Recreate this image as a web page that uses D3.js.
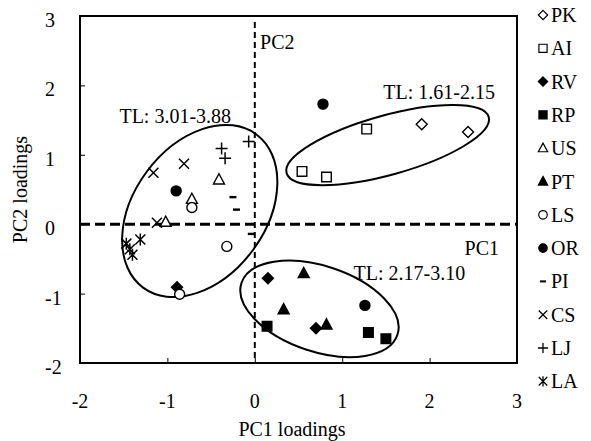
<!DOCTYPE html>
<html>
<head>
<meta charset="utf-8">
<script src="https://cdn.jsdelivr.net/npm/d3@7"></script>
<style>
  body { margin: 0; background: #fff; }
  #chart { width: 591px; height: 441px; }
  text { font-family: "Liberation Serif", "Times New Roman", serif; font-size: 20px; fill: #000; }
</style>
</head>
<body>
<div id="chart"></div>
<script>
// groups shown in the legend, top to bottom
var groups = ["PK", "AI", "RV", "RP", "US", "PT", "LS", "OR", "PI", "CS", "LJ", "LA"];
var shapes = ["diamond", "square", "diamond", "square", "triangle", "triangle", "circle", "circle", "dash", "times", "plus", "asterisk"];
var filled = [false, false, true, true, false, true, false, true, true, false, false, false];

// PC1 / PC2 loadings per group
var pkX = [1.91, 2.44],               pkY = [1.44, 1.33];
var aiX = [1.28, 0.54, 0.82],         aiY = [1.37, 0.76, 0.68];
var rvX = [0.15, 0.70, -0.89],        rvY = [-0.78, -1.50, -0.91];
var rpX = [0.14, 1.30, 1.50],         rpY = [-1.47, -1.56, -1.65];
var usX = [-0.41, -0.72, -1.02],      usY = [0.64, 0.36, 0.03];
var ptX = [0.56, 0.33, 0.82],         ptY = [-0.71, -1.23, -1.45];
var lsX = [-0.72, -0.32, -0.86],      lsY = [0.24, -0.32, -1.01];
var orX = [0.78, -0.90, 1.26],        orY = [1.73, 0.48, -1.17];
var piX = [-0.25, -0.21, -0.04],      piY = [0.39, 0.21, -0.14];
var csX = [-1.16, -0.81, -1.12],      csY = [0.74, 0.87, 0.02];
var ljX = [-0.38, -0.34, -0.07],      ljY = [1.09, 0.95, 1.19];
var laX = [-1.47, -1.31, -1.43, -1.40], laY = [-0.28, -0.22, -0.36, -0.44];

var allX = [pkX, aiX, rvX, rpX, usX, ptX, lsX, orX, piX, csX, ljX, laX];
var allY = [pkY, aiY, rvY, rpY, usY, ptY, lsY, orY, piY, csY, ljY, laY];

// cluster ellipses (centre, semi axes in PC1 units, tilt in degrees)
var ellCx = [-0.63, 1.52, 0.74];
var ellCy = [0.19, 1.14, -1.22];
var ellA = [1.09, 1.20, 0.94];
var ellB = [0.755, 0.34, 0.49];
var ellTilt = [53.5, 15.5, -18.4];

// text notes inside the plot
var noteText = ["TL: 3.01-3.88", "TL: 1.61-2.15", "TL: 2.17-3.10", "PC2", "PC1"];
var noteX = [-0.91, 1.47, 1.13, 0.06, 2.40];
var noteY = [1.46, 1.80, -0.81, 2.53, -0.44];
var noteAnchor = ["middle", "start", "start", "start", "start"];

var xTicks = [-2, -1, 0, 1, 2, 3];
var yTicks = [-2, -1, 0, 1, 2, 3];

var margin = {top: 16, right: 74, bottom: 78, left: 80},
  width = 591 - margin.left - margin.right,
  height = 441 - margin.top - margin.bottom;

var svg = d3.select("#chart")
.append("svg")
  .attr("width", 591)
  .attr("height", 441)
.append("g")
  .attr("transform", "translate(" + margin.left + "," + margin.top + ")");

var x = d3.scaleLinear().domain([-2, 3]).range([0, width]);
var y = d3.scaleLinear().domain([-2, 3]).range([height, 0]);

// inward ticks on bottom and left
var xAxis = svg.append("g")
  .attr("transform", "translate(0," + height + ")")
  .call(d3.axisTop(x).tickValues(xTicks).tickSize(5).tickFormat(""));
var yAxis = svg.append("g")
  .call(d3.axisRight(y).tickValues(yTicks).tickSize(5).tickFormat(""));
svg.selectAll(".domain").remove();
svg.selectAll(".tick line").attr("stroke", "#000").attr("stroke-width", 1);

// tick labels
svg.selectAll(".xlab")
  .data(xTicks)
  .enter()
  .append("text")
    .attr("x", function(d) { return x(d) })
    .attr("y", height + 45)
    .attr("text-anchor", "middle")
    .text(function(d) { return d });
svg.selectAll(".ylab")
  .data(yTicks)
  .enter()
  .append("text")
    .attr("x", -35)
    .attr("y", function(d) { return y(d) + 11 })
    .attr("text-anchor", "start")
    .text(function(d) { return d });

// axis titles
svg.append("text")
  .attr("x", 212)
  .attr("y", height + 73)
  .attr("text-anchor", "middle")
  .text("PC1 loadings");
svg.append("text")
  .attr("transform", "translate(-53," + (height / 2) + ") rotate(-90)")
  .attr("text-anchor", "middle")
  .text("PC2 loadings");

// dashed zero lines
svg.append("line")
  .attr("x1", x(0)).attr("x2", x(0))
  .attr("y1", y(3) + 6).attr("y2", y(-2))
  .attr("stroke", "#000").attr("stroke-width", 2)
  .attr("stroke-dasharray", "6,4");
svg.append("line")
  .attr("x1", x(-2)).attr("x2", x(3))
  .attr("y1", y(0)).attr("y2", y(0))
  .attr("stroke", "#000").attr("stroke-width", 3)
  .attr("stroke-dasharray", "10,5");

// ellipses
var unit = x(1) - x(0);
ellCx.forEach(function(cx, i) {
  svg.append("ellipse")
    .attr("transform", "translate(" + x(cx) + "," + y(ellCy[i]) + ") rotate(" + (-ellTilt[i]) + ")")
    .attr("rx", ellA[i] * unit)
    .attr("ry", ellB[i] * unit)
    .attr("fill", "none")
    .attr("stroke", "#000")
    .attr("stroke-width", 2);
});

// notes
svg.selectAll(".note")
  .data(noteText)
  .enter()
  .append("text")
    .attr("x", function(d, i) { return x(noteX[i]) })
    .attr("y", function(d, i) { return y(noteY[i]) })
    .attr("text-anchor", function(d, i) { return noteAnchor[i] })
    .text(function(d) { return d });

// marker paths
function markerPath(shape) {
  switch (shape) {
    case "diamond": return "M0,-5.5L5.5,0L0,5.5L-5.5,0Z";
    case "square": return "M-4.8,-4.8H4.8V4.8H-4.8Z";
    case "triangle": return "M0,-6L5.5,4.2H-5.5Z";
    case "circle": return "M5,0A5,5 0 1,1 -5,0A5,5 0 1,1 5,0Z";
    case "dash": return "M-3.5,-1.2H3.5V1.2H-3.5Z";
    case "times": return "M-5,-5L5,5M-5,5L5,-5";
    case "plus": return "M-6,0H6M0,-6V6";
    case "asterisk": return "M-5,-5L5,5M-5,5L5,-5M0,-6V6";
  }
}
function drawMarker(sel, i) {
  var open = shapes[i] == "times" || shapes[i] == "plus" || shapes[i] == "asterisk";
  sel.attr("d", markerPath(shapes[i]))
    .attr("fill", open ? "none" : (filled[i] ? "#000" : "#fff"))
    .attr("stroke", shapes[i] == "dash" ? "none" : "#000")
    .attr("stroke-width", open ? 1.5 : 1.4);
}

// points
var series = groups.map(function(g, i) {
  return allX[i].map(function(v, j) { return {group: i, px: v, py: allY[i][j]}; });
});
series.forEach(function(pts, i) {
  svg.selectAll(".pt" + i)
    .data(pts)
    .enter()
    .append("path")
      .attr("transform", function(d) { return "translate(" + x(d.px) + "," + y(d.py) + ")" })
      .call(drawMarker, i);
});

// frame
svg.append("rect")
  .attr("width", width).attr("height", height)
  .attr("fill", "none").attr("stroke", "#000").attr("stroke-width", 2);

// legend
var legend = svg.selectAll(".legend")
  .data(groups)
  .enter()
  .append("g")
    .attr("transform", function(d, i) { return "translate(" + (width + 26) + "," + (i * 33.3 - 1) + ")" });
legend.append("path")
  .each(function(d, i) { d3.select(this).call(drawMarker, i) })
  .attr("transform", "scale(0.85)");
legend.append("text")
  .attr("x", 8)
  .attr("y", 7)
  .text(function(d) { return d });
</script>
</body>
</html>
